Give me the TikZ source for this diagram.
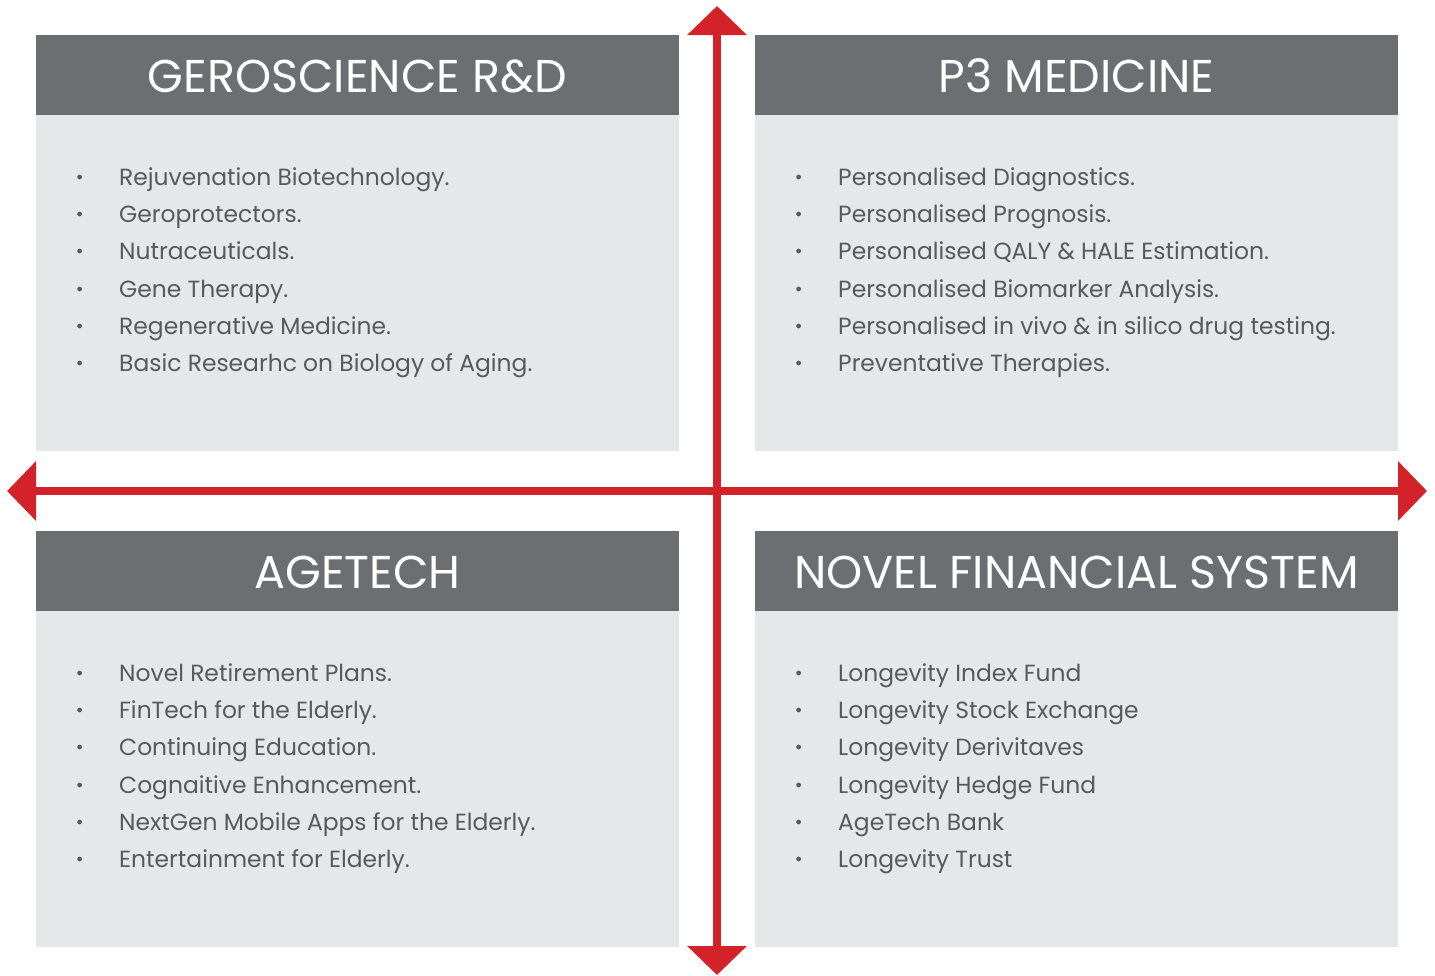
\documentclass[tikz,border=0pt]{standalone}
\usepackage{fontspec}
\setmainfont{Poppins}
\usetikzlibrary{arrows.meta}

\definecolor{quadred}{HTML}{D3222A}
\definecolor{headgray}{HTML}{6D6E71}
\definecolor{bodygray}{HTML}{E6E7E8}
\definecolor{textgray}{HTML}{58595B}

\newcommand{\qbullet}{\makebox[42pt][l]{\raisebox{5.6pt}{\tikz\fill[textgray] (0,0) circle (2.4pt);}}}

\begin{document}
\begin{tikzpicture}
    [x=1pt,y=-1pt,
     headstyle/.style={fill=headgray,draw=none,inner sep=0pt,minimum width=643pt,minimum height=80pt,anchor=north west},
     bodystyle/.style={fill=bodygray,draw=none,inner sep=0pt,minimum width=643pt,minimum height=336pt,anchor=north west},
     titlestyle/.style={text=white,font=\fontsize{46}{50}\selectfont,inner sep=0pt,anchor=base},
     itemstyle/.style={text=textgray,font=\fontsize{23.4}{27}\selectfont,inner sep=0pt,anchor=base west},
     arrowstyle/.style={draw=quadred,line width=8pt,{Triangle[width=58pt,length=29pt]}-{Triangle[width=58pt,length=29pt]}}]

    \useasboundingbox[fill=white] (0,0) rectangle (1435,975);

    % boxes
    \node[bodystyle] (glbody) at (36,115) {};
    \node[headstyle] (glhead) at (36,35) {};
    \node[bodystyle] (grbody) at (755,115) {};
    \node[headstyle] (grhead) at (755,35) {};
    \node[bodystyle] (blbody) at (36,611) {};
    \node[headstyle] (blhead) at (36,531) {};
    \node[bodystyle] (brbody) at (755,611) {};
    \node[headstyle] (brhead) at (755,531) {};

    % titles
    \node[titlestyle] (gltitle) at (357.5,92) {GEROSCIENCE R\&D};
    \node[titlestyle] (grtitle) at (1076.5,92) {P3 MEDICINE};
    \node[titlestyle] (bltitle) at (357.5,588) {AGETECH};
    \node[titlestyle] (brtitle) at (1076.5,588) {NOVEL FINANCIAL SYSTEM};

    % geroscience
    \node[itemstyle] (gl1) at (77,185) {\qbullet Rejuvenation Biotechnology.};
    \node[itemstyle] (gl2) at (77,222) {\qbullet Geroprotectors.};
    \node[itemstyle] (gl3) at (77,259) {\qbullet Nutraceuticals.};
    \node[itemstyle] (gl4) at (77,297) {\qbullet Gene Therapy.};
    \node[itemstyle] (gl5) at (77,334) {\qbullet Regenerative Medicine.};
    \node[itemstyle] (gl6) at (77,371) {\qbullet Basic Researhc on Biology of Aging.};

    % p3 medicine
    \node[itemstyle] (gr1) at (796,185) {\qbullet Personalised Diagnostics.};
    \node[itemstyle] (gr2) at (796,222) {\qbullet Personalised Prognosis.};
    \node[itemstyle] (gr3) at (796,259) {\qbullet Personalised QALY \& HALE Estimation.};
    \node[itemstyle] (gr4) at (796,297) {\qbullet Personalised Biomarker Analysis.};
    \node[itemstyle] (gr5) at (796,334) {\qbullet Personalised in vivo \& in silico drug testing.};
    \node[itemstyle] (gr6) at (796,371) {\qbullet Preventative Therapies.};

    % agetech
    \node[itemstyle] (bl1) at (77,681) {\qbullet Novel Retirement Plans.};
    \node[itemstyle] (bl2) at (77,718) {\qbullet FinTech for the Elderly.};
    \node[itemstyle] (bl3) at (77,755) {\qbullet Continuing Education.};
    \node[itemstyle] (bl4) at (77,793) {\qbullet Cognaitive Enhancement.};
    \node[itemstyle] (bl5) at (77,830) {\qbullet NextGen Mobile Apps for the Elderly.};
    \node[itemstyle] (bl6) at (77,867) {\qbullet Entertainment for Elderly.};

    % financial system
    \node[itemstyle] (br1) at (796,681) {\qbullet Longevity Index Fund};
    \node[itemstyle] (br2) at (796,718) {\qbullet Longevity Stock Exchange};
    \node[itemstyle] (br3) at (796,755) {\qbullet Longevity Derivitaves};
    \node[itemstyle] (br4) at (796,793) {\qbullet Longevity Hedge Fund};
    \node[itemstyle] (br5) at (796,830) {\qbullet AgeTech Bank};
    \node[itemstyle] (br6) at (796,867) {\qbullet Longevity Trust};

    % axes
    \coordinate (top) at (717,6);
    \coordinate (bottom) at (717,975);
    \coordinate (left) at (7,491);
    \coordinate (right) at (1427,491);
    \draw[arrowstyle] (left) -- (right);
    \draw[arrowstyle] (top) -- (bottom);
\end{tikzpicture}
\end{document}
